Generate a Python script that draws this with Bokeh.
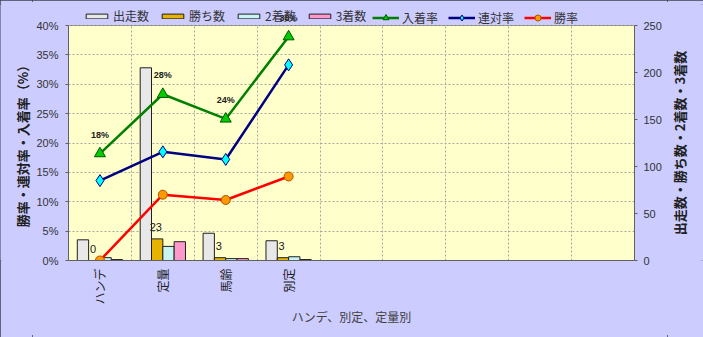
import math

from bokeh.core.properties import value
from bokeh.embed import file_html
from bokeh.layouts import row
from bokeh.models import (BoxAnnotation, ColumnDataSource, FixedTicker,
                          LabelSet, Legend, LegendItem, LinearAxis,
                          PrintfTickFormatter, Range1d)
from bokeh.plotting import figure
from bokeh.resources import INLINE
from bokeh.transform import dodge

# Race conditions and their results
categories = ["ハンデ", "定量", "馬齢", "別定"]
n_slots = 9
runners = [22, 205, 29, 21]
wins = [0, 23, 3, 3]
seconds = [3, 15, 2, 4]
thirds = [1, 20, 2, 1]
win_rate = [0.0, 11.2, 10.3, 14.3]
quinella_rate = [13.6, 18.5, 17.2, 33.3]
place_rate = [18.2, 28.3, 24.1, 38.1]
rate_ticks = [0, 5, 10, 15, 20, 25, 30, 35, 40]
count_ticks = [0, 50, 100, 150, 200, 250]
rate_max = 40
count_max = 250

left_title = "勝率・連対率・入着率（%）"
right_title = "出走数・勝ち数・2着数・3着数"
x_title = "ハンデ、別定、定量別"

JP = "Noto Sans CJK JP"
LAT = "Liberation Sans"
BG = "#CCCCFF"

# Page geometry: a narrow title strip on each side of the main chart.
W, H = 703, 337
left_w, right_w = 32, 36
main_w = W - left_w - right_w
frame_left, frame_right = 68, 634
frame_top, body_top, frame_bottom = 4, 25, 260
# The frame reaches up to the legend row; the chart body (0-40%) keeps
# its own box below it, so the ranges are stretched by that extra height.
stretch = (frame_bottom - frame_top) / (frame_bottom - body_top)
body_mid_y = (body_top + frame_bottom) / 2

src = ColumnDataSource(dict(
    x=list(range(len(categories))),
    runners=runners, wins=wins, seconds=seconds, thirds=thirds,
    win_rate=win_rate, quinella_rate=quinella_rate, place_rate=place_rate,
    wins_txt=[str(v) for v in wins],
    place_txt=[f"{v:.0f}%" for v in place_rate],
))

p = figure(width=main_w, height=H, output_backend="svg", toolbar_location=None,
           x_range=Range1d(-0.5, n_slots - 0.5),
           y_range=Range1d(0, rate_max * stretch),
           min_border_left=frame_left - left_w,
           min_border_right=left_w + main_w - frame_right,
           min_border_top=frame_top, min_border_bottom=H - frame_bottom,
           background_fill_color=BG, border_fill_color=BG)
p.extra_y_ranges = {"count": Range1d(0, count_max * stretch)}
p.outline_line_color = None

# chart body box
p.add_layout(BoxAnnotation(bottom=0, top=rate_max, fill_color="#FFFFCC",
                           fill_alpha=1, line_color="#808080", line_alpha=1,
                           line_width=1, level="image"))

# grid: dotted lines at every 5% and at slot boundaries
p.ygrid.ticker = FixedTicker(ticks=rate_ticks)
p.xgrid.ticker = FixedTicker(ticks=[k + 0.5 for k in range(n_slots - 1)])
for g in (p.xgrid[0], p.ygrid[0]):
    g.grid_line_color = "#A8A8A0"
    g.grid_line_dash = "2 2"
    g.grid_line_width = 1
if "cross_bounds" in p.xgrid[0].properties():
    p.xgrid[0].cross_bounds = (0, rate_max)

# count bars (right axis)
bar_w = 0.18
bar_specs = [
    ("runners", -0.27, "#E8E8E8", "出走数"),
    ("wins", -0.09, "#E6B400", "勝ち数"),
    ("seconds", 0.09, "#C8F4F4", "2着数"),
    ("thirds", 0.27, "#FF99CC", "3着数"),
]
bar_items = []
for col, off, color, label in bar_specs:
    r = p.vbar(x=dodge("x", off), top=col, width=bar_w, source=src,
               y_range_name="count", fill_color=color, line_color="#202020",
               line_width=1)
    bar_items.append(LegendItem(label=label, renderers=[r]))

# rate lines (left axis)
line_specs = [
    ("place_rate", "#008000", "triangle", "#00CC00", "#005500", 11, "入着率"),
    ("quinella_rate", "#000080", "diamond", "#00FFFF", "#000080", 12, "連対率"),
    ("win_rate", "#FF0000", "circle", "#FF9900", "#B05000", 9, "勝率"),
]
line_items = []
for col, lc, marker, fc, mlc, size, label in line_specs:
    rl = p.line(x="x", y=col, source=src, line_color=lc, line_width=2.5)
    rs = p.scatter(x="x", y=col, source=src, marker=marker, size=size,
                   fill_color=fc, line_color=mlc, line_width=1)
    line_items.append(LegendItem(label=label, renderers=[rl, rs]))

# legend row above the chart body: bar swatches, then line swatches
legend_top = 12
legend_kw = dict(orientation="horizontal", glyph_width=27, label_height=12,
                 label_standoff=3, spacing=10, padding=0, margin=0,
                 label_text_font=JP, label_text_font_size="12px",
                 label_text_color="#333333", background_fill_alpha=0,
                 border_line_color=None)
p.add_layout(Legend(items=bar_items, glyph_height=6,
                    location=(15, frame_bottom - legend_top - 12),
                    **legend_kw), "center")
p.add_layout(Legend(items=line_items, glyph_height=15,
                    location=(304, frame_bottom - legend_top - 14),
                    **legend_kw), "center")

# value labels
p.add_layout(LabelSet(x="x", y="wins", text="wins_txt", source=src,
                      y_range_name="count", x_offset=-7, y_offset=8,
                      text_align="center", text_baseline="bottom",
                      text_font=value(LAT), text_font_size="11px",
                      text_color="#202020", level="overlay"))
p.add_layout(LabelSet(x="x", y="place_rate", text="place_txt", source=src,
                      y_offset=14, text_align="center", text_baseline="bottom",
                      text_font=value(LAT), text_font_size="9px",
                      text_font_style="bold", text_color="#202020",
                      level="overlay"))

# axes
def style_axis(ax):
    ax.axis_line_color = "#606060"
    ax.major_tick_line_color = "#606060"
    ax.minor_tick_line_color = None
    ax.major_tick_in = 0
    ax.major_tick_out = 3
    ax.major_label_text_font = LAT
    ax.major_label_text_font_size = "11px"
    ax.major_label_text_color = "#333333"
    ax.axis_label_text_font = JP
    ax.axis_label_text_color = "#202020"

yl = p.yaxis[0]
style_axis(yl)
yl.bounds = (0, rate_max)
yl.ticker = FixedTicker(ticks=rate_ticks)
yl.formatter = PrintfTickFormatter(format="%d%%")
yl.major_label_standoff = 7

yr = LinearAxis(y_range_name="count", ticker=FixedTicker(ticks=count_ticks),
                bounds=(0, count_max))
style_axis(yr)
yr.major_label_standoff = 6
p.add_layout(yr, "right")

xa = p.xaxis[0]
style_axis(xa)
xa.ticker = FixedTicker(ticks=list(range(len(categories))))
xa.major_label_overrides = {i: c for i, c in enumerate(categories)}
xa.major_label_orientation = math.pi / 2
xa.major_label_text_font = JP
xa.major_label_text_font_size = "12px"
xa.major_label_text_color = "#202020"
xa.major_tick_out = 0
xa.major_label_standoff = 8
xa.axis_label = x_title
xa.axis_label_text_font_size = "12px"
xa.axis_label_text_font_style = "normal"
xa.axis_label_text_color = "#404040"
xa.axis_label_standoff = 0


def title_strip(width, text, cx):
    """Narrow strip carrying a vertical axis title read bottom-to-top.
    Its frame shares the main chart's top and bottom borders; the y range
    runs in page pixels counted up from the bottom edge."""
    s = figure(width=width, height=H, output_backend="svg",
               toolbar_location=None, x_range=Range1d(0, width),
               y_range=Range1d(H - frame_bottom, H - frame_top),
               x_axis_location=None, y_axis_location=None,
               min_border_left=0, min_border_right=0,
               min_border_top=frame_top, min_border_bottom=H - frame_bottom,
               background_fill_color=BG, border_fill_color=BG)
    s.outline_line_color = None
    s.grid.visible = False
    s.text(x=[cx], y=[H - body_mid_y], text=[text], angle=math.pi / 2,
           text_align="center", text_baseline="middle",
           text_font=value(JP), text_font_size="13px",
           text_font_style="bold", text_color="#202020")
    return s


left_strip = title_strip(left_w, left_title, 22)
right_strip = title_strip(right_w, right_title, 679 - (left_w + main_w))

page = row(left_strip, p, right_strip, spacing=0,
           styles={"background-color": BG,
                   "outline": "2px solid #404050", "outline-offset": "-2px"})

open("out.html", "w").write(file_html(page, INLINE))
